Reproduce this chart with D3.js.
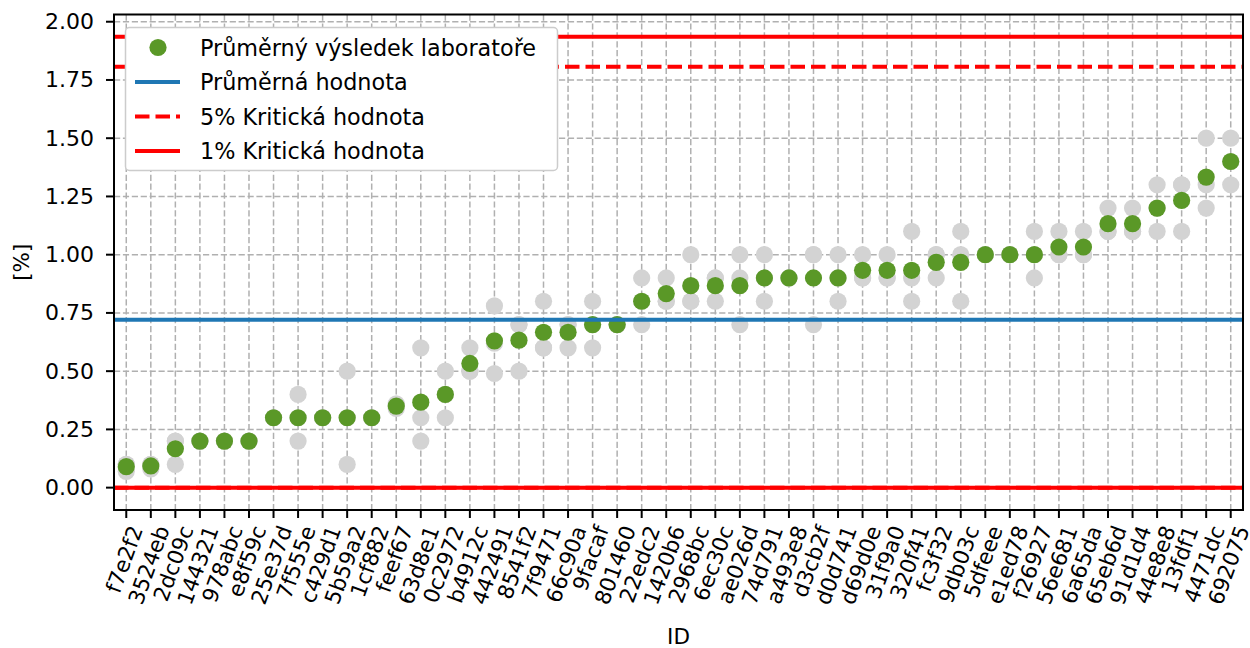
<!DOCTYPE html>
<html>
<head>
<meta charset="utf-8">
<script src="https://cdn.jsdelivr.net/npm/d3@7"></script>
<style>
  html, body { margin: 0; padding: 0; background: #ffffff; }
  svg { display: block; }
  text { font-family: "DejaVu Sans", sans-serif; fill: #000; }
</style>
</head>
<body>
<svg id="chart" width="1250" height="648"></svg>
<script>
// ---- data ----
const labIds = ["f7e2f2","3524eb","2dc09c","144321","978abc","e8f59c","25e37d","7f555e","c429d1","5b59a2",
  "1cf882","feef67","63d8e1","0c2972","b4912c","442491","8541f2","7f9471","66c90a","9facaf",
  "801460","22edc2","1420b6","2968bc","6ec30c","ae026d","74d791","a493e8","d3cb2f","d0d741",
  "d69d0e","31f9a0","320f41","fc3f32","9db03c","5dfeee","e1ed78","f26927","56e681","6a65da",
  "65eb6d","91d1d4","44e8e8","13fdf1","4471dc","692075"];
const labMeans = [0.09,0.093,0.167,0.2,0.2,0.2,0.3,0.3,0.3,0.3,
  0.3,0.35,0.367,0.4,0.533,0.63,0.633,0.667,0.667,0.7,
  0.7,0.8,0.833,0.867,0.867,0.867,0.9,0.9,0.9,0.9,
  0.933,0.933,0.933,0.967,0.967,1.0,1.0,1.0,1.033,1.033,
  1.133,1.133,1.2,1.233,1.333,1.4];
const replicate1 = [0.1,0.1,0.2,0.2,0.2,0.2,0.3,0.4,0.3,0.5,
  0.3,0.36,0.6,0.5,0.6,0.78,0.7,0.8,0.7,0.8,
  0.7,0.9,0.9,1.0,0.9,1.0,1.0,0.9,1.0,1.0,
  1.0,1.0,1.1,1.0,1.1,1.0,1.0,1.1,1.1,1.1,
  1.2,1.2,1.3,1.3,1.5,1.5];
const replicate2 = [0.1,0.1,0.2,0.2,0.2,0.2,0.3,0.3,0.3,0.3,
  0.3,0.35,0.3,0.4,0.5,0.62,0.7,0.6,0.7,0.7,
  0.7,0.8,0.8,0.8,0.9,0.9,0.9,0.9,1.0,0.9,
  0.9,0.9,0.9,1.0,1.0,1.0,1.0,1.0,1.0,1.0,
  1.1,1.1,1.2,1.3,1.3,1.4];
const replicate3 = [0.07,0.08,0.1,0.2,0.2,0.2,0.3,0.2,0.3,0.1,
  0.3,0.34,0.2,0.3,0.5,0.49,0.5,0.6,0.6,0.6,
  0.7,0.7,0.8,0.8,0.8,0.7,0.8,0.9,0.7,0.8,
  0.9,0.9,0.8,0.9,0.8,1.0,1.0,0.9,1.0,1.0,
  1.1,1.1,1.1,1.1,1.2,1.3];
const overallMean = 0.721;
const crit5 = [0, 1.807];   // lower, upper
const crit1 = [0, 1.936];   // lower, upper
const yTicks = [0, 0.25, 0.5, 0.75, 1.0, 1.25, 1.5, 1.75, 2.0];
const legendLabels = ["Průměrný výsledek laboratoře", "Průměrná hodnota", "5% Kritická hodnota", "1% Kritická hodnota"];

// ---- layout ----
const L = 114, R = 1243, T = 14.5, B = 510;
const FS = 22;
const XFS = 21.5;
const LFS = 22.3;
const green = "#5a9827", grey = "#d3d3d3", blue = "#1f77b4", red = "#ff0000";

const svg = d3.select("#chart");
const x = d3.scaleLinear().domain([-0.5, labIds.length - 0.5]).range([L, R]);
const y = d3.scaleLinear().domain([-0.096, 2.031]).range([B, T]);
const idx = labIds.map((d, i) => i);

// grid
const grid = svg.append("g");
grid.selectAll("line.gx").data(idx).join("line")
  .attr("x1", d => x(d)).attr("x2", d => x(d)).attr("y1", T).attr("y2", B)
  .attr("stroke", "#b0b0b0").attr("stroke-width", 1.5).attr("stroke-dasharray", "6.2,2.7");
grid.selectAll("line.gy").data(yTicks).join("line")
  .attr("x1", L).attr("x2", R).attr("y1", d => y(d)).attr("y2", d => y(d))
  .attr("stroke", "#b0b0b0").attr("stroke-width", 1.5).attr("stroke-dasharray", "6.2,2.7");

// clip
svg.append("clipPath").attr("id", "clip").append("rect")
  .attr("x", L).attr("y", T).attr("width", R - L).attr("height", B - T);
const plot = svg.append("g").attr("clip-path", "url(#clip)");

// replicate points
const reps = [replicate1, replicate2, replicate3];
reps.forEach(arr => {
  plot.append("g").selectAll("circle").data(arr).join("circle")
    .attr("cx", (d, i) => x(i)).attr("cy", d => y(d)).attr("r", 8.6).attr("fill", grey);
});
// lab means
plot.append("g").selectAll("circle").data(labMeans).join("circle")
  .attr("cx", (d, i) => x(i)).attr("cy", d => y(d)).attr("r", 8.6).attr("fill", green);

// horizontal reference lines
function hline(v, color, dash) {
  const l = plot.append("line").attr("x1", L).attr("x2", R).attr("y1", y(v)).attr("y2", y(v))
    .attr("stroke", color).attr("stroke-width", 4);
  if (dash) l.attr("stroke-dasharray", dash);
}
hline(overallMean, blue);
crit5.forEach(v => hline(v, red, "14.5,6"));
crit1.forEach(v => hline(v, red));

// spines
svg.append("rect").attr("x", L).attr("y", T).attr("width", R - L).attr("height", B - T)
  .attr("fill", "none").attr("stroke", "#000").attr("stroke-width", 2);

// y axis ticks
const yAxis = svg.append("g");
yAxis.selectAll("line").data(yTicks).join("line")
  .attr("x1", L - 8).attr("x2", L).attr("y1", d => y(d)).attr("y2", d => y(d))
  .attr("stroke", "#000").attr("stroke-width", 2);
yAxis.selectAll("text").data(yTicks).join("text")
  .attr("x", 94).attr("y", d => y(d)).attr("text-anchor", "end")
  .attr("dominant-baseline", "central").attr("font-size", FS)
  .text(d => d3.format(".2f")(d));

// x axis ticks
const xAxis = svg.append("g");
xAxis.selectAll("line").data(idx).join("line")
  .attr("x1", d => x(d)).attr("x2", d => x(d)).attr("y1", B).attr("y2", B + 8)
  .attr("stroke", "#000").attr("stroke-width", 2);
const ang = 70 * Math.PI / 180;
const labelTop = 523;
xAxis.selectAll("text").data(idx).join("text")
  .attr("text-anchor", "middle").attr("dominant-baseline", "central")
  .attr("font-size", XFS)
  .text(d => labIds[d])
  .each(function(d) {
    const len = this.getComputedTextLength();
    const h = XFS * 1.0;
    const H = len * Math.sin(ang) + h * Math.cos(ang);
    d3.select(this).attr("transform", `translate(${x(d) - 2},${labelTop + H / 2}) rotate(-70)`);
  });

// axis labels
svg.append("text").attr("x", (L + R) / 2).attr("y", 644).attr("text-anchor", "middle")
  .attr("font-size", 21.5).text("ID");
svg.append("text").attr("transform", `translate(29,${(T + B) / 2}) rotate(-90)`)
  .attr("text-anchor", "middle").attr("font-size", 21.5).text("[%]");

// legend
const lg = svg.append("g");
lg.append("rect").attr("x", 125.5).attr("y", 27.5).attr("width", 432).attr("height", 143)
  .attr("rx", 4).attr("fill", "#fff").attr("stroke", "#cccccc").attr("stroke-width", 1.5);
const rowsY = [47.5, 82, 116.5, 151];
lg.append("circle").attr("cx", 158).attr("cy", rowsY[0]).attr("r", 8.6).attr("fill", green);
const legLines = [[blue, null], [red, "14.5,6"], [red, null]];
legLines.forEach((s, i) => {
  const l = lg.append("line").attr("x1", 135).attr("x2", 180)
    .attr("y1", rowsY[i + 1]).attr("y2", rowsY[i + 1])
    .attr("stroke", s[0]).attr("stroke-width", 4);
  if (s[1]) l.attr("stroke-dasharray", s[1]);
});
lg.selectAll("text").data(legendLabels).join("text")
  .attr("x", 200).attr("y", (d, i) => rowsY[i]).attr("dominant-baseline", "central")
  .attr("font-size", LFS).text(d => d);
</script>
</body>
</html>
